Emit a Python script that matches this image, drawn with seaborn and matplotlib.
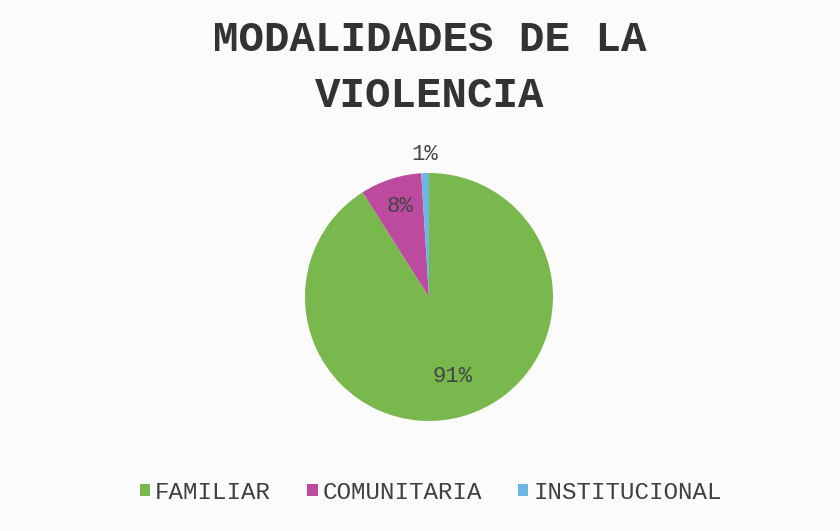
import matplotlib
matplotlib.use("Agg")
import matplotlib.pyplot as plt
import numpy as np
import seaborn as sns
from matplotlib.patches import Patch

# Modalidades de la violencia: share of cases per type
categories = ["FAMILIAR", "COMUNITARIA", "INSTITUCIONAL"]
values = [91, 8, 1]
pct_labels = ["91%", "8%", "1%"]
colors = ["#79b84c", "#bc4a9f", "#6db6e3"]
# radial placement of each percentage label (fraction of radius)
label_radius = [0.67, 0.77, 1.15]

sns.set_theme(style="white")
plt.rcParams["font.family"] = ["Liberation Mono", "DejaVu Sans Mono"]

fig = plt.figure(figsize=(8.4, 5.31), dpi=100)
fig.patch.set_facecolor("#fbfbfb")

ax = fig.add_axes([0.3631, 0.2072, 0.2952, 0.467])
wedges, _ = ax.pie(values, colors=colors, startangle=90, counterclock=False,
                   radius=1.0, wedgeprops=dict(linewidth=0))
ax.set_xlim(-1, 1)
ax.set_ylim(-1, 1)
ax.set_aspect("equal")
ax.axis("off")

for w, lab, r in zip(wedges, pct_labels, label_radius):
    ang = np.deg2rad((w.theta1 + w.theta2) / 2)
    ax.text(r * np.cos(ang), r * np.sin(ang), lab, ha="center", va="center",
            fontsize=16, color="#454545", clip_on=False)

fig.text(0.512, 0.872, "MODALIDADES DE LA\nVIOLENCIA", ha="center", va="center",
         fontsize=30.6, fontweight="bold", color="#333333", linespacing=1.5)

handles = [Patch(facecolor=c, edgecolor="none") for c in colors]
fig.legend(handles, categories, loc="center", bbox_to_anchor=(0.513, 0.073),
           ncol=3, frameon=False, fontsize=17.4, handlelength=0.42,
           handleheight=0.42, handletextpad=0.2, columnspacing=1.5,
           labelcolor="#404040")

fig.savefig("out.png", dpi=100, facecolor=fig.get_facecolor())
